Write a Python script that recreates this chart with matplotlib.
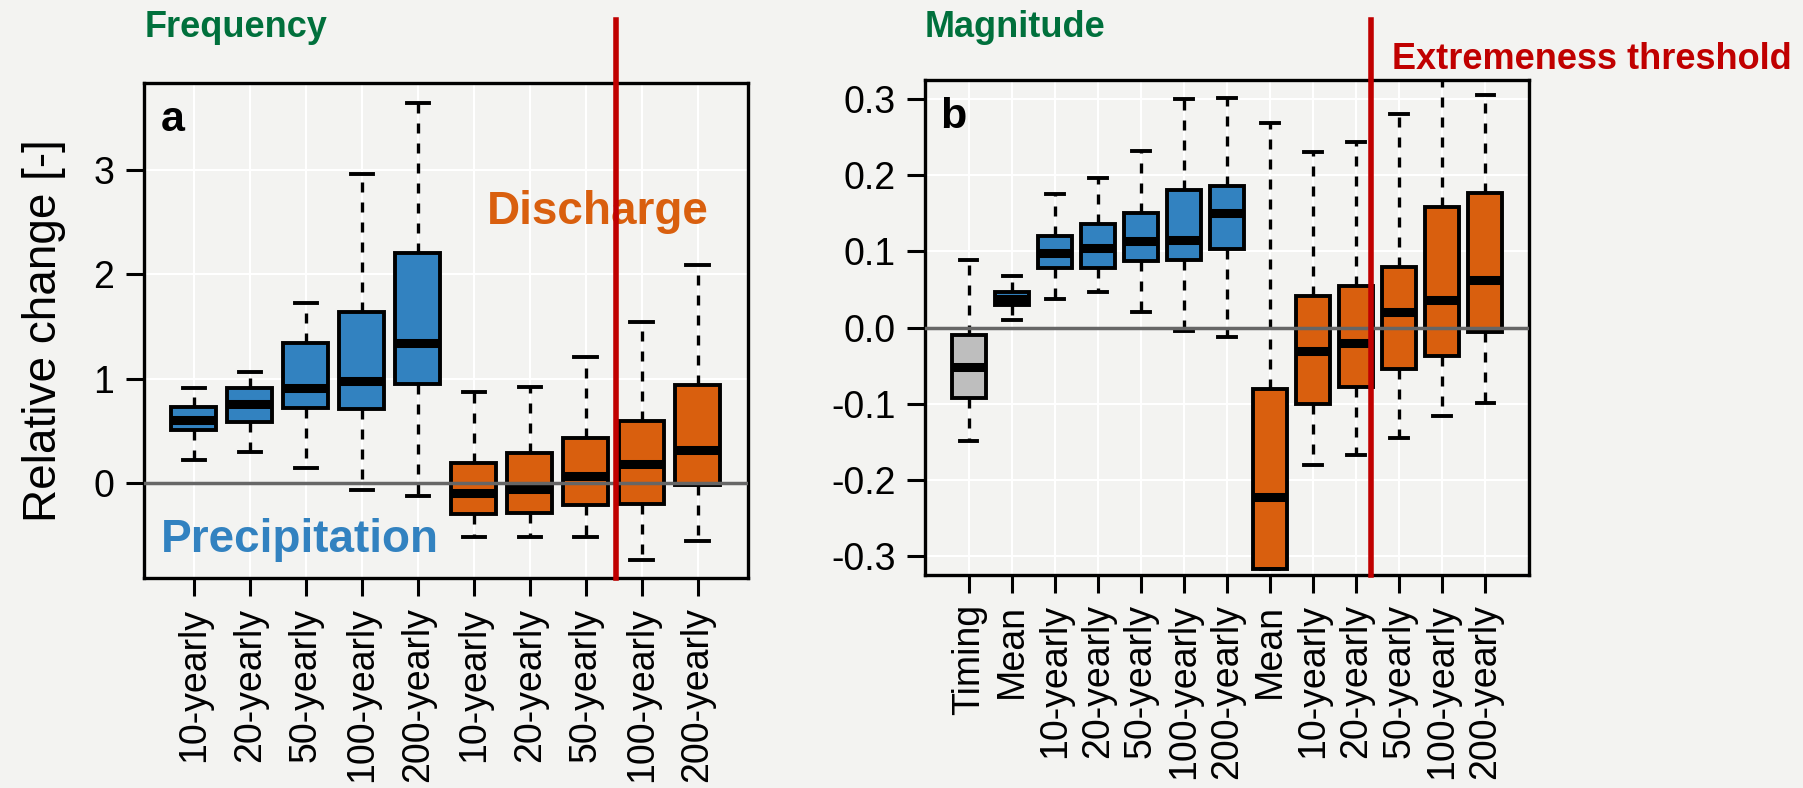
import matplotlib
matplotlib.use('Agg')
import matplotlib.pyplot as plt

bg = '#f3f3f1'
blue = '#3282c0'
orange = '#d95f0e'
grey = '#bebebe'
green = '#00703c'
red = '#c00000'

# panel a: frequency (5 precipitation, 5 discharge)
freq_labels = ['10-yearly', '20-yearly', '50-yearly', '100-yearly', '200-yearly',
               '10-yearly', '20-yearly', '50-yearly', '100-yearly', '200-yearly']
freq_group = ['P', 'P', 'P', 'P', 'P', 'Q', 'Q', 'Q', 'Q', 'Q']
freq_med = [0.60, 0.76, 0.91, 0.98, 1.34, -0.10, -0.06, 0.07, 0.18, 0.32]
freq_q1 = [0.51, 0.58, 0.72, 0.71, 0.95, -0.30, -0.29, -0.21, -0.20, -0.02]
freq_q3 = [0.73, 0.91, 1.34, 1.64, 2.20, 0.19, 0.29, 0.43, 0.59, 0.94]
freq_lo = [0.22, 0.30, 0.14, -0.07, -0.13, -0.52, -0.52, -0.52, -0.74, -0.56]
freq_hi = [0.91, 1.06, 1.72, 2.96, 3.64, 0.87, 0.92, 1.21, 1.54, 2.09]

# panel b: magnitude (timing, precipitation, discharge)
mag_labels = ['Timing', 'Mean', '10-yearly', '20-yearly', '50-yearly', '100-yearly', '200-yearly',
              'Mean', '10-yearly', '20-yearly', '50-yearly', '100-yearly', '200-yearly']
mag_group = ['T', 'P', 'P', 'P', 'P', 'P', 'P', 'Q', 'Q', 'Q', 'Q', 'Q', 'Q']
mag_med = [-0.052, 0.037, 0.098, 0.105, 0.113, 0.115, 0.150, -0.222, -0.031, -0.021, 0.020, 0.036, 0.063]
mag_q1 = [-0.092, 0.029, 0.078, 0.078, 0.087, 0.089, 0.103, -0.317, -0.100, -0.078, -0.055, -0.038, -0.006]
mag_q3 = [-0.010, 0.046, 0.120, 0.136, 0.151, 0.181, 0.186, -0.081, 0.041, 0.054, 0.080, 0.158, 0.177]
mag_lo = [-0.149, 0.010, 0.037, 0.046, 0.021, -0.004, -0.013, -0.317, -0.181, -0.167, -0.145, -0.116, -0.099]
mag_hi = [0.088, 0.068, 0.175, 0.196, 0.232, 0.300, 0.302, 0.269, 0.230, 0.244, 0.280, 0.360, 0.305]

group_colors = {'P': blue, 'Q': orange, 'T': grey}

plt.rcParams['font.family'] = ['Liberation Sans', 'DejaVu Sans']

fig = plt.figure(figsize=(18.03, 7.88), dpi=100, facecolor=bg)
ax1 = fig.add_axes([143.5/1803, 1 - 578.4/788, 604.5/1803, 495.4/788])
ax2 = fig.add_axes([925/1803, 1 - 575/788, 604/1803, 495/788])


def draw_boxes(ax, labels, groups, med, q1, q3, lo, hi):
    stats = []
    for i in range(len(labels)):
        stats.append({'med': med[i], 'q1': q1[i], 'q3': q3[i],
                      'whislo': lo[i], 'whishi': hi[i], 'label': labels[i]})
    pos = list(range(1, len(labels) + 1))
    bp = ax.bxp(stats, positions=pos, widths=0.8, patch_artist=True, showfliers=False,
                boxprops=dict(linewidth=2.8, edgecolor='black'),
                medianprops=dict(color='black', linewidth=6.5, solid_capstyle='butt'),
                whiskerprops=dict(color='black', linewidth=2.4, linestyle=(0, (3, 3))),
                capprops=dict(color='black', linewidth=2.8),
                zorder=3)
    for patch, g in zip(bp['boxes'], groups):
        patch.set_facecolor(group_colors[g])
    ax.set_facecolor(bg)
    ax.grid(color='white', linewidth=1.5, zorder=0)
    ax.set_axisbelow(True)
    ax.axhline(0, color='#666666', linewidth=2.5, zorder=5)
    for sp in ax.spines.values():
        sp.set_linewidth(2.4)
    ax.tick_params(length=13, width=2.2, labelsize=27, pad=8)
    ax.tick_params(axis='x', labelrotation=90)
    return bp


draw_boxes(ax1, freq_labels, freq_group, freq_med, freq_q1, freq_q3, freq_lo, freq_hi)
ax1.set_xlim(0.1, 10.9)
ax1.set_ylim(-0.915, 3.832)
ax1.set_yticks([0, 1, 2, 3])
ax1.set_ylabel('Relative change [-]', fontsize=33, labelpad=20)

draw_boxes(ax2, mag_labels, mag_group, mag_med, mag_q1, mag_q3, mag_lo, mag_hi)
ax2.set_xlim(-0.02, 14.02)
ax2.set_ylim(-0.325, 0.325)
ax2.set_yticks([-0.3, -0.2, -0.1, 0.0, 0.1, 0.2, 0.3])
ax2.set_yticklabels(['-0.3', '-0.2', '-0.1', '0.0', '0.1', '0.2', '0.3'])

# extremeness threshold lines, reaching above the panels
ax1.axvline(8.55, ymin=0, ymax=(578 - 20) / 495.4, color=red, linewidth=4, clip_on=False, zorder=10)
ax2.axvline(10.35, ymin=0, ymax=(575 - 20) / 495, color=red, linewidth=4, clip_on=False, zorder=10)

ax1.text((161 - 143.5)/604.5, 1 - (131 - 83)/495.4, 'a', transform=ax1.transAxes, fontsize=31,
         fontweight='bold', va='baseline', ha='left')
ax2.text(15/604, 1 - (128 - 80)/495, 'b', transform=ax2.transAxes, fontsize=31,
         fontweight='bold', va='baseline', ha='left')
ax1.text((161 - 143.5)/604.5, 1 - (552 - 83)/495.4, 'Precipitation', transform=ax1.transAxes,
         fontsize=33, fontweight='bold', color=blue, va='baseline', ha='left')
ax1.text((487 - 143.5)/604.5, 1 - (224 - 83)/495.4, 'Discharge', transform=ax1.transAxes,
         fontsize=33, fontweight='bold', color=orange, va='baseline', ha='left', zorder=2)

fig.text(145/1803, 1 - 37/788, 'Frequency', fontsize=26, fontweight='bold', color=green,
         va='baseline', ha='left')
fig.text(925/1803, 1 - 37/788, 'Magnitude', fontsize=26, fontweight='bold', color=green,
         va='baseline', ha='left')
fig.text(1392/1803, 1 - 69/788, 'Extremeness threshold', fontsize=26, fontweight='bold',
         color=red, va='baseline', ha='left')

fig.savefig('out.png', dpi=100, facecolor=bg)
